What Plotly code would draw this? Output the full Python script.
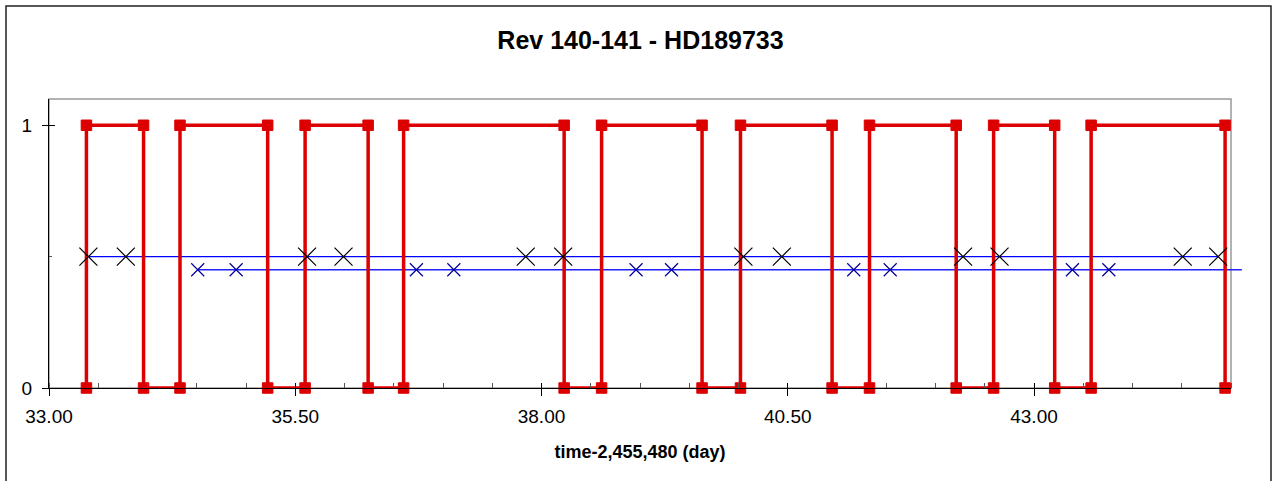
import plotly.graph_objects as go

# ---------------- data ----------------
red_x = [33.38, 33.38, 33.96, 33.96, 34.33, 34.33, 35.22, 35.22, 35.60, 35.60,
         36.24, 36.24, 36.60, 36.60, 38.23, 38.23, 38.61, 38.61, 39.63, 39.63,
         40.02, 40.02, 40.95, 40.95, 41.33, 41.33, 42.21, 42.21, 42.59, 42.59,
         43.21, 43.21, 43.58, 43.58, 44.94, 44.94]
red_y = [0, 1, 1, 0, 0, 1, 1, 0, 0, 1,
         1, 0, 0, 1, 1, 0, 0, 1, 1, 0,
         0, 1, 1, 0, 0, 1, 1, 0, 0, 1,
         1, 0, 0, 1, 1, 0]

black_x = [33.40, 33.78, 35.62, 35.99, 37.84, 38.22, 40.05, 40.44, 42.28, 42.65, 44.51, 44.87]
black_y = [0.5, 0.5, 0.5, 0.5, 0.5, 0.5, 0.5, 0.5, 0.5, 0.5, 0.5, 0.5]

blue_x = [34.51, 34.90, 36.73, 37.11, 38.96, 39.32, 41.17, 41.54, 43.39, 43.76]
blue_y = [0.45, 0.45, 0.45, 0.45, 0.45, 0.45, 0.45, 0.45, 0.45, 0.45]

lineA_x = [33.40, 44.87]
lineA_y = [0.5, 0.5]
lineB_x = [34.51, 45.11]
lineB_y = [0.45, 0.45]

x_range = [33, 45]
y_range = [0, 1.1]

# ---------------- layout geometry ----------------
W, H = 1281, 481
L, T, B = 49, 99, 93
R_PLOT = 1231      # right edge of the plot frame
R_EXT = 1251       # traces may run a little past the frame
MR = W - R_EXT
paper_w = R_EXT - L
D = (R_PLOT - L) / paper_w
ext_max = x_range[0] + (x_range[1] - x_range[0]) / D

RED = "#DD0000"
FONT = "Arial, Liberation Sans, sans-serif"

fig = go.Figure()

fig.add_trace(go.Scatter(x=lineA_x, y=lineA_y, mode="lines",
                         line=dict(color="#0000FF", width=1.2), hoverinfo="skip"))
fig.add_trace(go.Scatter(x=lineB_x, y=lineB_y, mode="lines",
                         line=dict(color="#2020FF", width=1.4), hoverinfo="skip"))
fig.add_trace(go.Scatter(x=red_x, y=red_y, mode="lines+markers", cliponaxis=False,
                         line=dict(color=RED, width=3.5),
                         marker=dict(symbol="square", size=10.5, color=RED,
                                     line=dict(color=RED, width=1))))
fig.add_trace(go.Scatter(x=black_x, y=black_y, mode="markers", cliponaxis=False,
                         marker=dict(symbol="x-thin-open", size=18, color="black",
                                     line=dict(color="black", width=1.2))))
fig.add_trace(go.Scatter(x=blue_x, y=blue_y, mode="markers", cliponaxis=False,
                         marker=dict(symbol="x-thin-open", size=13, color="#000099",
                                     line=dict(color="#000099", width=1.2))))

fig.update_layout(
    width=W, height=H,
    margin=dict(l=L, r=MR, t=T, b=B, pad=0),
    paper_bgcolor="white", plot_bgcolor="rgba(0,0,0,0)",
    showlegend=False,
    font=dict(family=FONT, color="black"),
    title=dict(text="<b>Rev 140-141 - HD189733</b>", x=0.5, xref="container",
               y=1 - 40 / H, yref="container", xanchor="center", yanchor="middle",
               font=dict(size=25, family=FONT, color="black")),
    xaxis=dict(domain=[0, 1], range=[x_range[0], ext_max], visible=False,
               anchor="y", fixedrange=True),
    xaxis2=dict(domain=[0, D], range=x_range, anchor="y",
                showline=True, linecolor="black", linewidth=1,
                ticks="outside", ticklen=7, tickcolor="black", tickwidth=1,
                tick0=33, dtick=2.5, tickformat=".2f", ticklabelstandoff=4,
                tickfont=dict(size=19, family=FONT, color="black"),
                minor=dict(ticks="inside", dtick=0.5, tick0=33, ticklen=5,
                           tickcolor="#555555", tickwidth=1),
                showgrid=False, zeroline=False,
                title=dict(text="<b>time-2,455,480 (day)</b>", standoff=19,
                           font=dict(size=18, family=FONT, color="black"))),
    xaxis3=dict(domain=[0, D], range=x_range, anchor="y", overlaying="x2",
                showline=False, ticks="inside", ticklen=5, tickcolor="black",
                tick0=33, dtick=2.5, showticklabels=False,
                showgrid=False, zeroline=False),
    yaxis=dict(range=y_range, anchor="x", showline=True, linecolor="black",
               linewidth=1, ticks="outside", ticklen=6, tickcolor="black",
               tick0=0, dtick=1, tickfont=dict(size=19, family=FONT, color="black"),
               minor=dict(ticks="inside", dtick=0.5, tick0=0, ticklen=3,
                          tickcolor="#555555"),
               showgrid=False, zeroline=False, ticklabelstandoff=6),
    yaxis3=dict(range=y_range, anchor="x", overlaying="y", side="left",
                showline=False, ticks="inside", ticklen=6, tickcolor="black",
                tick0=0, dtick=1, showticklabels=False,
                showgrid=False, zeroline=False),
)

# empty traces so the tick-only axes get their subplots
fig.add_trace(go.Scatter(x=[], y=[], xaxis="x2", yaxis="y", showlegend=False))
fig.add_trace(go.Scatter(x=[], y=[], xaxis="x3", yaxis="y3", showlegend=False))

# gray plot frame (top/right) and the outer chart border
fig.add_shape(type="rect", xref="x2 domain", yref="y domain", x0=0, x1=1, y0=0, y1=1,
              line=dict(color="#999999", width=1.5), layer="below")
fig.add_shape(type="rect", xref="paper", yref="paper",
              x0=(6 - L) / paper_w, x1=(1271 - L) / paper_w,
              y0=(H - B - 490) / (H - T - B), y1=(H - B - 6) / (H - T - B),
              line=dict(color="#222222", width=1.5), layer="below")

fig.write_html("out.html")
